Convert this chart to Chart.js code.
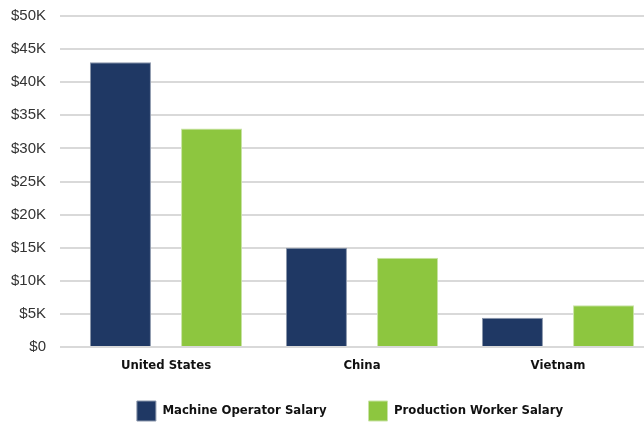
<!DOCTYPE html>
<html>
<head>
<meta charset="utf-8">
<script src="https://cdn.jsdelivr.net/npm/chart.js@4.4.0/dist/chart.umd.min.js"></script>
<style>
  html, body { margin: 0; padding: 0; background: #fff; overflow: hidden; }
  #wrap { width: 656px; height: 423px; }
</style>
</head>
<body>
<div id="wrap"><canvas id="salaryChart"></canvas></div>
<script>
const countries = ['United States', 'China', 'Vietnam'];
const machineOperator = [43000, 15000, 4400];
const productionWorker = [33000, 13500, 6300];
const yTicks = [0, 5000, 10000, 15000, 20000, 25000, 30000, 35000, 40000, 45000, 50000];

const navy = '#1f3864';
const green = '#8dc63f';
const boldFont = { family: '"DejaVu Sans Condensed", "Liberation Sans Narrow", sans-serif', size: 13, weight: 'bold' };

// nudge the legend right and up a little, like the original
const legendShift = {
    id: 'legendShift',
    afterLayout(chart) {
        chart.legend.left += 22;
        chart.legend.right += 22;
        chart.legend.top -= 18;
    }
};

const salaryChart = new Chart(document.getElementById('salaryChart'), {
    type: 'bar',
    data: {
        labels: countries,
        datasets: [{
            label: 'Machine Operator Salary',
            data: machineOperator,
            backgroundColor: navy,
            borderColor: '#8a96ab',
            borderWidth: 1
        }, {
            label: 'Production Worker Salary',
            data: productionWorker,
            backgroundColor: green,
            borderColor: '#c9e3a6',
            borderWidth: 1
        }]
    },
    plugins: [legendShift],
    options: {
        responsive: true,
        maintainAspectRatio: false,
        animation: false,
        layout: { padding: { top: 16, left: 0, right: 0, bottom: 0 } },
        datasets: {
            bar: { categoryPercentage: 0.93, barPercentage: 0.67 }
        },
        scales: {
            x: {
                grid: { display: false },
                border: { display: false },
                afterFit: scale => { scale.height = 30; },
                ticks: { color: '#111', padding: 3, font: boldFont }
            },
            y: {
                min: 0,
                max: 50000,
                afterBuildTicks: axis => { axis.ticks = yTicks.map(v => ({ value: v })); },
                afterFit: scale => { scale.width = 68; scale.paddingTop = 0; },
                border: { display: false },
                grid: { color: '#d9d9d9', lineWidth: 2, tickLength: 8 },
                ticks: {
                    color: '#333',
                    padding: 14,
                    font: { family: '"Liberation Sans", Arial, sans-serif', size: 15 },
                    callback: v => v === 0 ? '$0' : '$' + (v / 1000) + 'K'
                }
            }
        },
        plugins: {
            tooltip: { enabled: false },
            legend: {
                position: 'bottom',
                maxHeight: 46,
                labels: {
                    boxWidth: 19,
                    boxHeight: 20,
                    padding: 42,
                    color: '#111',
                    font: boldFont
                }
            }
        }
    }
});
</script>
</body>
</html>
